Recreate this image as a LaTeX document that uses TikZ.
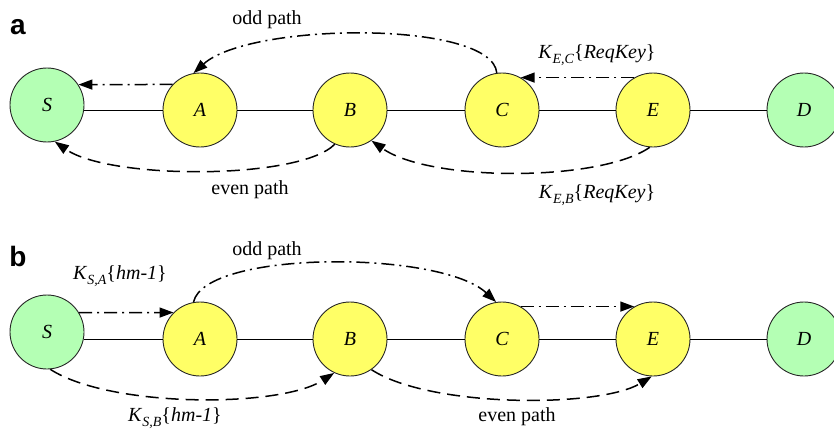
\documentclass[tikz,border=0pt]{standalone}
\usepackage{fontspec}
\setmainfont{Liberation Serif}
\newfontfamily\labfont{Liberation Sans}
\usetikzlibrary{arrows.meta}
\definecolor{ngreen}{RGB}{180,255,180}
\definecolor{nyellow}{RGB}{255,255,102}
\newcommand\kkey[2]{\textit{K}\raisebox{-0.28em}{\fontsize{14}{14}\selectfont\textit{#1}}\{\textit{#2}\}}
\begin{document}
\begin{tikzpicture}[x=1pt,y=1pt,
  every node/.style={font=\fontsize{20}{24}\selectfont},
  nd/.style={circle,draw=black!85,line width=0.9pt,minimum size=74pt,inner sep=0pt,font=\fontsize{20}{24}\selectfont\itshape},
  endnode/.style={nd,fill=ngreen},
  midnode/.style={nd,fill=nyellow},
  link/.style={line width=0.9pt},
  tip/.style={-{Triangle[length=14pt,width=10pt]}},
  dashdot/.style={tip,line width=1.5pt,dash pattern=on 13pt off 5pt on 2pt off 5pt},
  dsh/.style={tip,line width=1.5pt,dash pattern=on 13pt off 7pt},
  panel/.style={font=\labfont\bfseries\fontsize{28}{30}\selectfont}]
\useasboundingbox (0,0) rectangle (834,432);

% ---------- panel a ----------
\node[panel] (la) at (18,405) {a};
\node[endnode] (S1) at (47,327) {S};
\node[midnode] (A1) at (200,322) {A};
\node[midnode] (B1) at (350,322) {B};
\node[midnode] (C1) at (502,322) {C};
\node[midnode] (E1) at (653,322) {E};
\node[endnode] (D1) at (804,322) {D};
\draw[link] (A1.west) -- (A1.west -| S1.east);
\draw[link] (A1) -- (B1);
\draw[link] (B1) -- (C1);
\draw[link] (C1) -- (E1);
\draw[link] (E1) -- (D1);

\draw[dashdot] (C1.98) .. controls (492,412) and (250,410) .. (A1.100);
\draw[dashdot] (A1.137) -- (S1.33);
\draw[dashdot] (E1.120) -- (C1.60);
\draw[dsh] (B1.246) .. controls (300,252) and (110,252) .. (S1.282);
\draw[dsh] (E1.265) .. controls (600,250) and (430,250) .. (B1.305);

\node (oa) at (267,412) {odd path};
\node (ea) at (250,242) {even path};
\node (kec) at (597,377) {\kkey{E,C}{ReqKey}};
\node (keb) at (597,237) {\kkey{E,B}{ReqKey}};

% ---------- panel b ----------
\node[panel] (lb) at (18,176) {b};
\node[endnode] (S2) at (47,100) {S};
\node[midnode] (A2) at (200,93) {A};
\node[midnode] (B2) at (350,93) {B};
\node[midnode] (C2) at (502,93) {C};
\node[midnode] (E2) at (653,93) {E};
\node[endnode] (D2) at (804,93) {D};
\draw[link] (A2.west) -- (A2.west -| S2.east);
\draw[link] (A2) -- (B2);
\draw[link] (B2) -- (C2);
\draw[link] (C2) -- (E2);
\draw[link] (E2) -- (D2);

\draw[dashdot] (A2.100) .. controls (205,182) and (440,182) .. (C2.99);
\draw[dashdot] (S2.31) -- (A2.135);
\draw[dashdot] (C2.60) -- (E2.120);
\draw[dsh] (S2.275) .. controls (110,24) and (280,24) .. (B2.245);
\draw[dsh] (B2.305) .. controls (430,24) and (600,24) .. (E2.268);

\node (ob) at (267,181) {odd path};
\node (eb) at (517,15) {even path};
\node (ksa) at (120,156) {\kkey{S,A}{hm-1}};
\node (ksb) at (175,14) {\kkey{S,B}{hm-1}};
\end{tikzpicture}
\end{document}
